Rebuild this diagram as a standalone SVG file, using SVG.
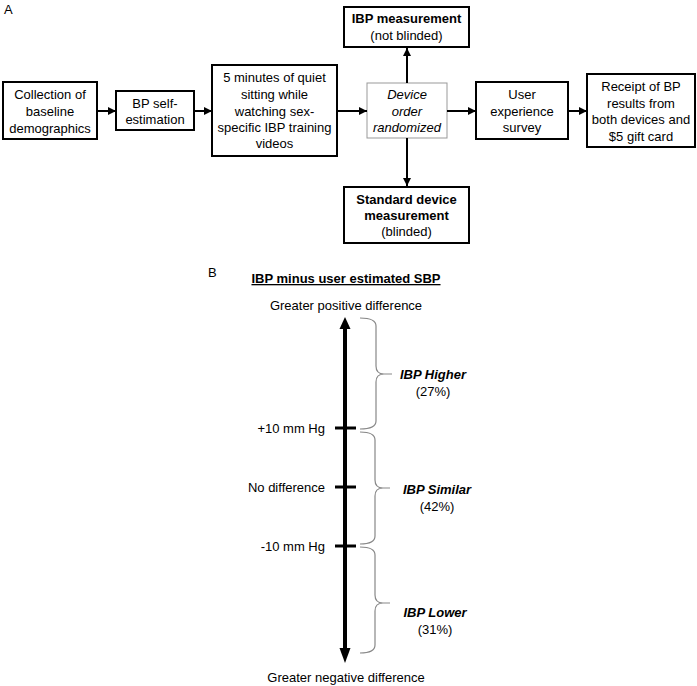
<svg xmlns="http://www.w3.org/2000/svg" width="697" height="686" viewBox="0 0 697 686">
<style>
text{font-family:"Liberation Sans",Arial,sans-serif;font-size:13px;fill:#000}
.c{text-anchor:middle}
.r{text-anchor:end}
.b{font-weight:bold}
.i{font-style:italic}
.box{fill:#fff;stroke:#000;stroke-width:2}
.gbox{fill:#fff;stroke:#999;stroke-width:1}
.con{stroke:#000;stroke-width:2;fill:none}
.brace{stroke:#888;stroke-width:1.2;fill:none}
</style>
<defs>
<marker id="ah" viewBox="0 0 10 10" refX="10" refY="5" markerWidth="4" markerHeight="4" orient="auto" markerUnits="strokeWidth">
<path d="M0,0 L10,5 L0,10 z" fill="#000"/>
</marker>
</defs>
<rect width="697" height="686" fill="#fff"/>
<text x="4" y="14" font-size="14">A</text>
<g id="n1"><rect class="box" x="3" y="82" width="94" height="57"/>
<text class="c" x="50" y="99">Collection of</text><text class="c" x="50" y="116">baseline</text><text class="c" x="50" y="133">demographics</text></g>
<g id="n2"><rect class="box" x="116" y="91" width="78" height="39"/>
<text class="c" x="155" y="108">BP self-</text><text class="c" x="155" y="124">estimation</text></g>
<g id="n3"><rect class="box" x="212" y="65" width="125" height="91"/>
<text class="c" x="274.5" y="82">5 minutes of quiet</text><text class="c" x="274.5" y="99">sitting while</text><text class="c" x="274.5" y="116">watching sex-</text><text class="c" x="274.5" y="132">specific IBP training</text><text class="c" x="274.5" y="148">videos</text></g>
<g id="n4"><rect class="gbox" x="367" y="83" width="80" height="55"/>
<text class="c i" x="407" y="99">Device</text><text class="c i" x="407" y="116">order</text><text class="c i" x="407" y="132">randomized</text></g>
<g id="n5"><rect class="box" x="344" y="7" width="125" height="40"/>
<text class="c b" x="406.5" y="23">IBP measurement</text><text class="c" x="406.5" y="40">(not blinded)</text></g>
<g id="n6"><rect class="box" x="344" y="187" width="125" height="56"/>
<text class="c b" x="406.5" y="204">Standard device</text><text class="c b" x="406.5" y="220">measurement</text><text class="c" x="406.5" y="236">(blinded)</text></g>
<g id="n7"><rect class="box" x="476" y="82" width="92" height="57"/>
<text class="c" x="522" y="99">User</text><text class="c" x="522" y="116">experience</text><text class="c" x="522" y="132">survey</text></g>
<g id="n8"><rect class="box" x="587" y="74" width="108" height="73"/>
<text class="c" x="641" y="91">Receipt of BP</text><text class="c" x="641" y="108">results from</text><text class="c" x="641" y="124">both devices and</text><text class="c" x="641" y="141">$5 gift card</text></g>
<g id="connectors">
<line class="con" x1="97" y1="111" x2="116" y2="111" marker-end="url(#ah)"/>
<line class="con" x1="194" y1="111" x2="212" y2="111" marker-end="url(#ah)"/>
<line class="con" x1="337" y1="111" x2="367" y2="111" marker-end="url(#ah)"/>
<line class="con" x1="447" y1="111" x2="476" y2="111" marker-end="url(#ah)"/>
<line class="con" x1="568" y1="111" x2="587" y2="111" marker-end="url(#ah)"/>
<line class="con" x1="407" y1="83" x2="407" y2="48" marker-end="url(#ah)"/>
<line class="con" x1="407" y1="138" x2="407" y2="186" marker-end="url(#ah)"/>
</g>
<text x="208" y="277" font-size="14">B</text>
<g id="scale">
<text class="c b" x="346" y="283" text-decoration="underline">IBP minus user estimated SBP</text>
<text class="c" x="346" y="310">Greater positive difference</text>
<text class="c" x="346" y="682">Greater negative difference</text>
<line x1="345" y1="327" x2="345" y2="650" stroke="#000" stroke-width="4"/>
<polygon points="345,317 339.5,329 350.5,329" fill="#000"/>
<polygon points="345,663 339.5,648 350.5,648" fill="#000"/>
<line x1="335" y1="428" x2="356" y2="428" stroke="#000" stroke-width="3"/>
<line x1="335" y1="487" x2="356" y2="487" stroke="#000" stroke-width="3"/>
<line x1="335" y1="546" x2="356" y2="546" stroke="#000" stroke-width="3"/>
<text class="r" x="325" y="433">+10 mm Hg</text>
<text class="r" x="325" y="492">No difference</text>
<text class="r" x="325" y="551">-10 mm Hg</text>
<path class="brace" d="M360,318 Q376,318 376,326 L376,366 Q376,374 384,374 L392,374 M384,374 Q376,374 376,382 L376,421 Q376,429 360,429"/>
<path class="brace" d="M360,432 Q375,432 375,440 L375,480 Q375,488 383,488 L390,488 M383,488 Q375,488 375,496 L375,536 Q375,544 360,544"/>
<path class="brace" d="M360,547 Q375,547 375,555 L375,595 Q375,603 383,603 L390,603 M383,603 Q375,603 375,611 L375,645 Q375,653 360,653"/>
<text class="c b i" x="433" y="379">IBP Higher</text>
<text class="c" x="433" y="396">(27%)</text>
<text class="c b i" x="437" y="494">IBP Similar</text>
<text class="c" x="437" y="511">(42%)</text>
<text class="c b i" x="435" y="617">IBP Lower</text>
<text class="c" x="435" y="634">(31%)</text>
</g>
</svg>
